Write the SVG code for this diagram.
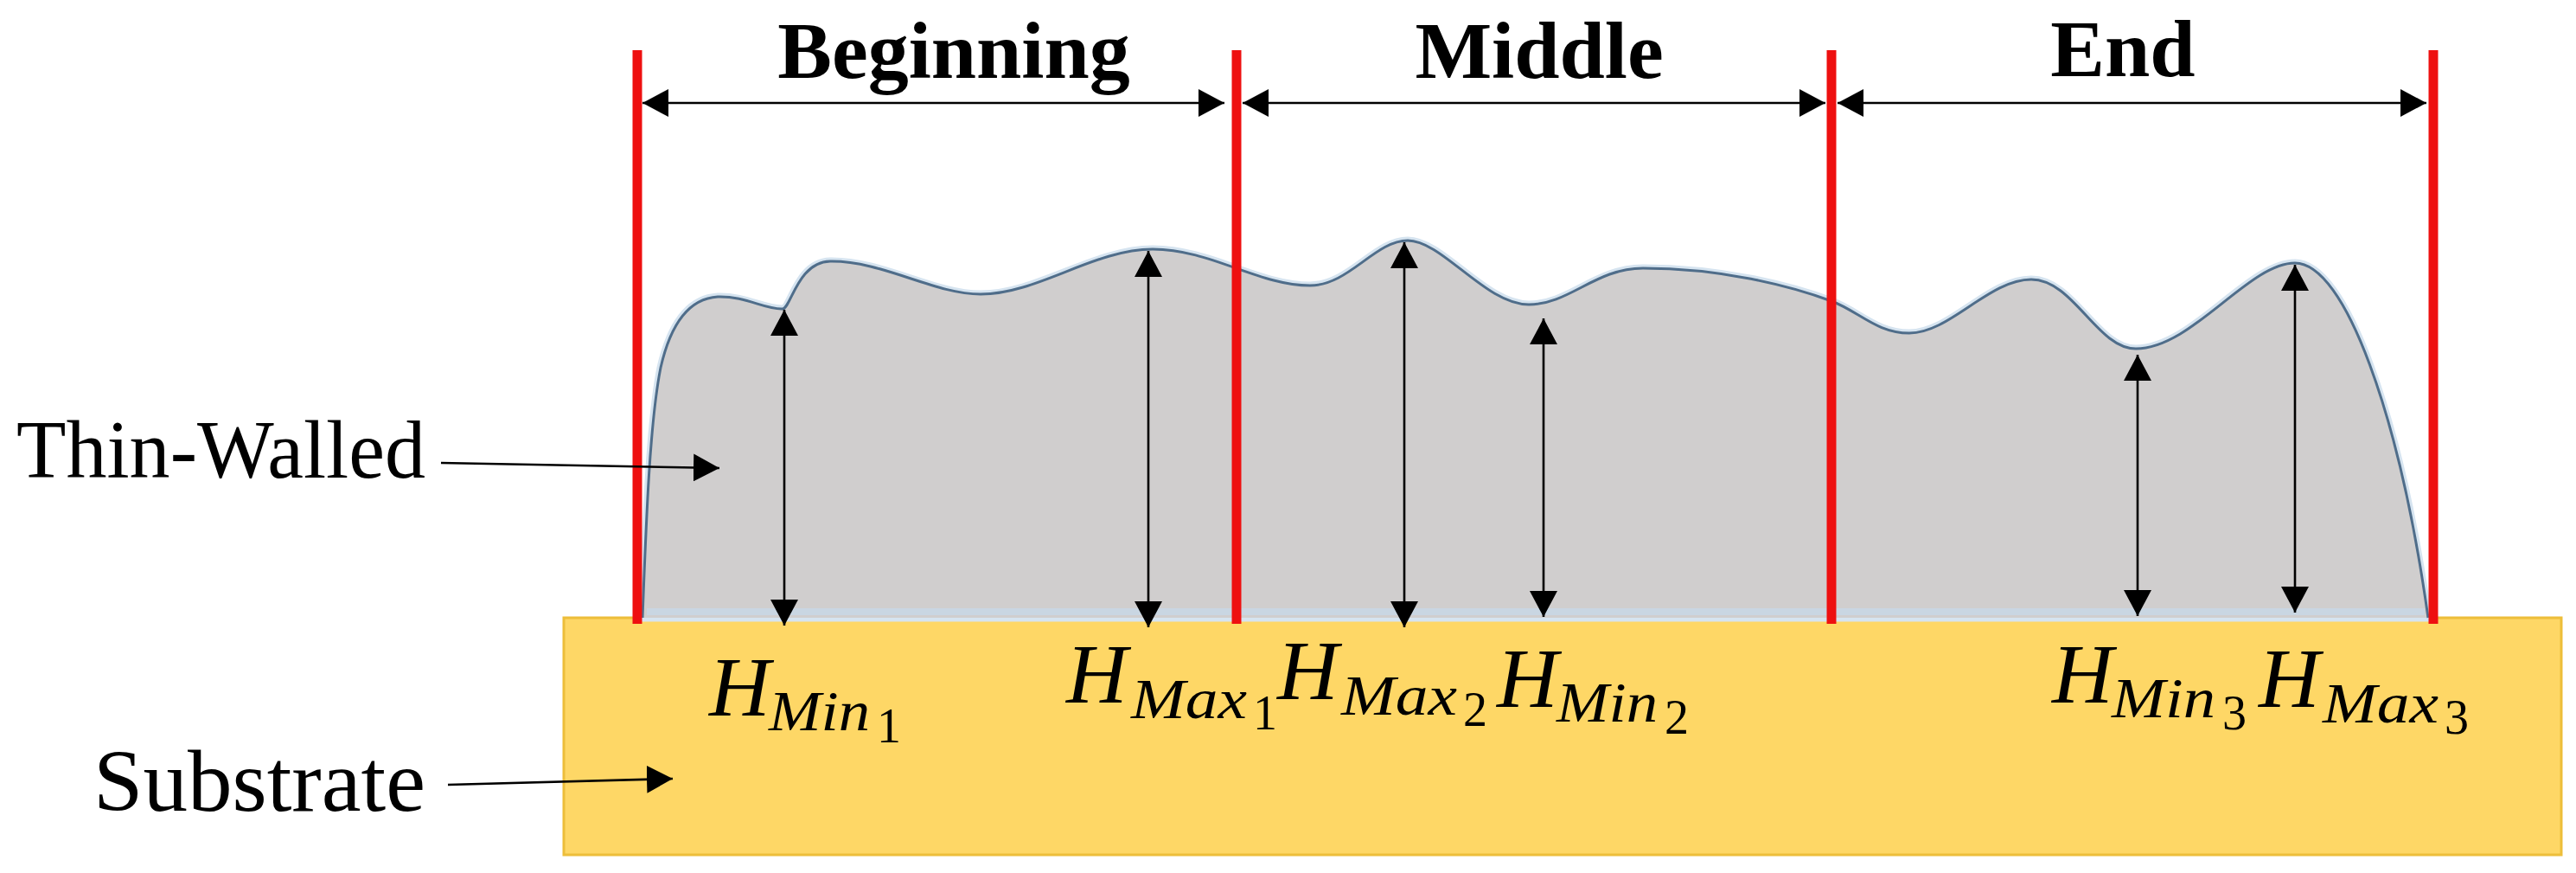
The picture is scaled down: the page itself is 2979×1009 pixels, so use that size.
<svg xmlns="http://www.w3.org/2000/svg" width="2979" height="1009" viewBox="0 0 2979 1009">
<style>
.title{font-family:"Liberation Serif","Times New Roman",serif;font-weight:bold;font-size:94px;fill:#000;text-anchor:middle}
.lbl{font-family:"Liberation Serif","Times New Roman",serif;fill:#000}
.H{font-family:"Liberation Serif","Times New Roman",serif;font-style:italic;font-size:98px;fill:#000}
.sub{font-family:"Liberation Serif","Times New Roman",serif;font-style:italic;font-size:66px;fill:#000}
.ss{font-family:"Liberation Serif","Times New Roman",serif;font-size:56px;fill:#000}
.red{stroke:#EE1010;stroke-width:11;fill:none}
.dim{stroke:#000;stroke-width:2.6;fill:none;marker-start:url(#ah);marker-end:url(#ah)}
.ptr{stroke:#000;stroke-width:2.6;fill:none;marker-end:url(#ah)}
</style>
<defs>
<marker id="ah" viewBox="0 0 30 32" refX="30" refY="16" markerWidth="30" markerHeight="32" markerUnits="userSpaceOnUse" orient="auto-start-reverse">
<path d="M0,0 L30,16 L0,32 Z" fill="#000"/>
</marker>
</defs>
<rect width="2979" height="1009" fill="#fff"/>

<g id="substrate">
<rect x="652" y="714" width="2310" height="274" fill="#FED766" stroke="#EDBE3A" stroke-width="3"/>
</g>

<g id="thin-wall">
<path d="M743,714 C747,610 751,490 764,425 C776,372 798,345 830,343 C862,342 885,358 905,357 C915,356 922,303 960,302 C1020,301 1080,340 1134,340 C1200,340 1265,288 1333,288 C1400,288 1455,330 1515,330 C1560,330 1590,278 1628,278 C1668,278 1718,352 1768,352 C1815,352 1845,310 1900,310 C1990,310 2070,330 2118,348 C2150,360 2170,385 2208,385 C2255,385 2300,323 2349,323 C2398,323 2425,403 2470,403 C2535,403 2600,304 2654,304 C2712,304 2775,480 2808,714 Z" fill="#D0CECE" stroke="#D6E4F0" stroke-width="9"/>
<path d="M743,714 C747,610 751,490 764,425 C776,372 798,345 830,343 C862,342 885,358 905,357 C915,356 922,303 960,302 C1020,301 1080,340 1134,340 C1200,340 1265,288 1333,288 C1400,288 1455,330 1515,330 C1560,330 1590,278 1628,278 C1668,278 1718,352 1768,352 C1815,352 1845,310 1900,310 C1990,310 2070,330 2118,348 C2150,360 2170,385 2208,385 C2255,385 2300,323 2349,323 C2398,323 2425,403 2470,403 C2535,403 2600,304 2654,304 C2712,304 2775,480 2808,714" fill="#D0CECE" stroke="#4F6D8A" stroke-width="3"/>
<line x1="748" y1="707" x2="2804" y2="707" stroke="#C9D6E2" stroke-width="8"/>
</g>

<g id="section-lines">
<line class="red" x1="737" y1="58" x2="737" y2="721"/>
<line class="red" x1="1430" y1="58" x2="1430" y2="721"/>
<line class="red" x1="2118" y1="58" x2="2118" y2="721"/>
<line class="red" x1="2814" y1="58" x2="2814" y2="721"/>
</g>

<g id="title-beginning"><text class="title" x="1103" y="90">Beginning</text></g>
<g id="title-middle"><text class="title" x="1780" y="90">Middle</text></g>
<g id="title-end"><text class="title" x="2455" y="88">End</text></g>

<g id="label-thin-walled"><text class="lbl" x="19" y="552" font-size="96" textLength="473" lengthAdjust="spacingAndGlyphs">Thin-Walled</text></g>
<g id="label-substrate"><text class="lbl" x="108" y="937" font-size="102" textLength="384" lengthAdjust="spacingAndGlyphs">Substrate</text></g>

<g id="label-hmin1"><text class="H" x="820" y="827">H</text><text class="sub" x="889" y="844" textLength="117" lengthAdjust="spacingAndGlyphs">Min</text><text class="ss" x="1014" y="858">1</text></g>
<g id="label-hmax1"><text class="H" x="1233" y="812">H</text><text class="sub" x="1308" y="830" textLength="134" lengthAdjust="spacingAndGlyphs">Max</text><text class="ss" x="1449" y="843">1</text></g>
<g id="label-hmax2"><text class="H" x="1477" y="808">H</text><text class="sub" x="1551" y="826" textLength="134" lengthAdjust="spacingAndGlyphs">Max</text><text class="ss" x="1692" y="839">2</text></g>
<g id="label-hmin2"><text class="H" x="1731" y="817">H</text><text class="sub" x="1800" y="834" textLength="117" lengthAdjust="spacingAndGlyphs">Min</text><text class="ss" x="1925" y="848">2</text></g>
<g id="label-hmin3"><text class="H" x="2373" y="812">H</text><text class="sub" x="2442" y="829" textLength="120" lengthAdjust="spacingAndGlyphs">Min</text><text class="ss" x="2570" y="843">3</text></g>
<g id="label-hmax3"><text class="H" x="2612" y="817">H</text><text class="sub" x="2686" y="835" textLength="134" lengthAdjust="spacingAndGlyphs">Max</text><text class="ss" x="2827" y="848">3</text></g>

<g id="connectors">
<line class="dim" x1="743" y1="119" x2="1416" y2="119"/>
<line class="dim" x1="1437" y1="119" x2="2111" y2="119"/>
<line class="dim" x1="2125" y1="119" x2="2806" y2="119"/>
<line class="dim" x1="907" y1="358" x2="907" y2="723"/>
<line class="dim" x1="1328" y1="290" x2="1328" y2="725"/>
<line class="dim" x1="1624" y1="280" x2="1624" y2="725"/>
<line class="dim" x1="1785" y1="368" x2="1785" y2="713"/>
<line class="dim" x1="2472" y1="410" x2="2472" y2="712"/>
<line class="dim" x1="2654" y1="306" x2="2654" y2="708"/>
<line class="ptr" x1="510" y1="535" x2="832" y2="541"/>
<line class="ptr" x1="518" y1="907" x2="778" y2="900"/>
</g>
</svg>
